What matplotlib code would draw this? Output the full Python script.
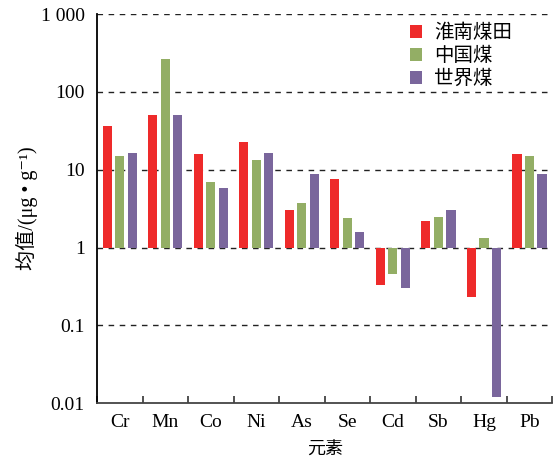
import matplotlib
matplotlib.use("Agg")
import matplotlib.pyplot as plt
import numpy as np

categories = ["Cr", "Mn", "Co", "Ni", "As", "Se", "Cd", "Sb", "Hg", "Pb"]
series_names = ["淮南煤田", "中国煤", "世界煤"]
huainan = [37, 50, 16.1, 23, 3.08, 7.7, 0.325, 2.16, 0.23, 15.7]
china = [15.2, 269, 7.05, 13.5, 3.79, 2.43, 0.45, 2.5, 1.34, 14.8]
world = [16.6, 50, 5.9, 16.6, 8.9, 1.56, 0.30, 3.0, 0.012, 8.9]
ytick_vals = [0.01, 0.1, 1, 10, 100, 1000]
ytick_labels = ["0.01", "0.1", "1", "10", "100", "1 000"]
colors = ["#ee2a2a", "#93ae65", "#7a669c"]

serif = ["Liberation Serif", "Noto Sans CJK SC", "DejaVu Serif"]
cjk = ["Noto Sans CJK SC", "Liberation Serif"]

fig = plt.figure(figsize=(5.55, 4.58), dpi=100)
ax = fig.add_axes([0.175, 0.12, 0.82, 0.849])

x = np.arange(len(categories))
width = 0.2
offset = 0.275
for i, (vals, name, c) in enumerate(zip([huainan, china, world], series_names, colors)):
    v = np.array(vals)
    ax.bar(x + (i - 1) * offset, v - 1, bottom=1, width=width, color=c, label=name, zorder=3)

ax.set_yscale("log")
ax.set_ylim(0.01, 1000)
ax.set_xlim(-0.5, 9.5)
ax.set_yticks(ytick_vals)
ax.set_yticklabels(ytick_labels, fontfamily="Liberation Serif", fontsize=14)
ax.yaxis.set_minor_locator(matplotlib.ticker.NullLocator())
ax.tick_params(axis="y", which="major", length=0, pad=9)

ax.set_xticks(x)
ax.set_xticklabels(categories, fontfamily="Liberation Serif", fontsize=14)
ax.set_xticks(np.arange(-0.5, 10, 1), minor=True)
ax.tick_params(axis="x", which="major", length=0, pad=8)
ax.tick_params(axis="x", which="minor", direction="in", length=5, width=1.2, color="#333333")

for yv in [0.1, 1, 10, 100, 1000]:
    ax.axhline(yv, color="#222222", lw=1.0, ls=(0, (4, 4)), zorder=2)

for s in ["top", "right"]:
    ax.spines[s].set_visible(False)
ax.spines["left"].set_linewidth(1.3)
ax.spines["bottom"].set_linewidth(1.3)
ax.spines["bottom"].set_color("#444444")

ax.set_xlabel("元素", fontfamily=cjk, fontsize=13, labelpad=7)
ax.set_ylabel("均值/(μg • g⁻¹)", fontfamily=serif, fontsize=14.5, labelpad=2)

leg = ax.legend(loc="upper right", bbox_to_anchor=(0.937, 1.01), frameon=False,
                prop={"family": cjk, "size": 14}, handlelength=0.65, handleheight=0.65,
                handletextpad=0.6, labelspacing=0.1, borderaxespad=0.2)

fig.savefig("out.png", dpi=100)
